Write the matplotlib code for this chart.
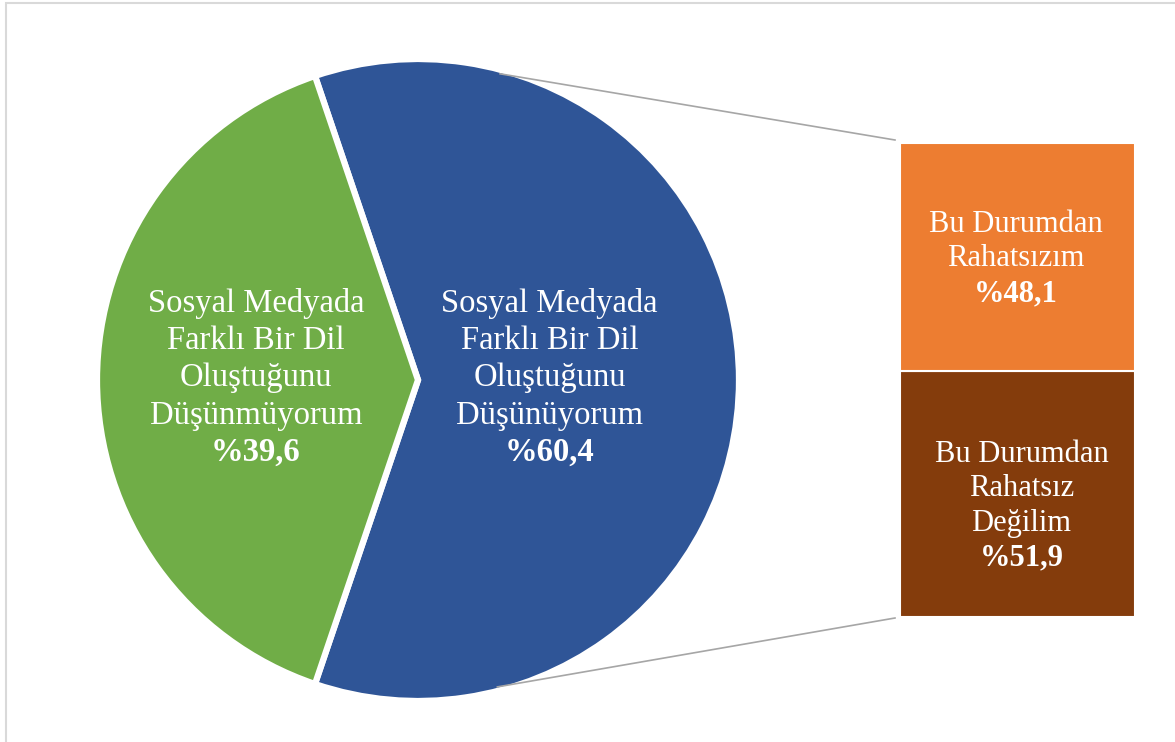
import numpy as np
import matplotlib.pyplot as plt
from matplotlib.patches import Rectangle

plt.rcParams['font.family'] = ['Liberation Serif', 'DejaVu Serif']

# ana pasta
pie_labels = ["Sosyal Medyada\nFarklı Bir Dil\nOluştuğunu\nDüşünüyorum",
              "Sosyal Medyada\nFarklı Bir Dil\nOluştuğunu\nDüşünmüyorum"]
pie_values = [60.4, 39.6]
pie_colors = ["#2F5597", "#70AD47"]

# düşünenlerin dağılımı (çubuk)
bar_labels = ["Bu Durumdan\nRahatsız\nDeğilim", "Bu Durumdan\nRahatsızım"]
bar_values = [51.9, 48.1]
bar_colors = ["#843C0C", "#ED7D31"]


def fmt(v):
    return "%" + ("%.1f" % v).replace(".", ",")


def text_block(ax, x, y, label, pct, size, step):
    lines = label.split("\n") + [fmt(pct)]
    n = len(lines)
    for i, line in enumerate(lines):
        yy = y + (n - 1) / 2 * step - i * step
        ax.text(x, yy, line, ha="center", va="center", color="white",
                fontsize=size, fontweight="bold" if i == n - 1 else "normal")


W, H = 1175, 742
fig = plt.figure(figsize=(W / 100, H / 100), dpi=100)
ax = fig.add_axes([0, 0, 1, 1])

cx, cy, r = 418, 362, 321
start = -pie_values[0] * 3.6 / 2
wedges, _ = ax.pie(pie_values, colors=pie_colors, startangle=start,
                   center=(cx, cy), radius=r,
                   wedgeprops=dict(edgecolor="white", linewidth=4.5))

# etiketler dilimlerin ortasına
pos = [0.41, 0.505]
for w, lab, v, f in zip(wedges, pie_labels, pie_values, pos):
    ang = np.deg2rad((w.theta1 + w.theta2) / 2)
    tx = cx + f * r * np.cos(ang)
    ty = cy + f * r * np.sin(ang) + 2
    text_block(ax, tx, ty, lab, v, 23.5, 37.3)

# yığılmış çubuk
bx, bw = 1017.5, 235
btop, bbot = 742 - 143, 742 - 617
scale = (btop - bbot) / sum(bar_values)
bottom = bbot
offsets = [(4, -12), (-2, -2)]
for lab, v, c, off in zip(bar_labels, bar_values, bar_colors, offsets):
    h = v * scale
    ax.bar(bx, h, bottom=bottom, width=bw, color=c, edgecolor="white",
           linewidth=1.5)
    text_block(ax, bx + off[0], bottom + h / 2 + off[1], lab, v, 22, 34.5)
    bottom += h

# bağlantı çizgileri
for a, ey in [(75, btop + 3), (-75.5, bbot - 1)]:
    sx = cx + (r - 4) * np.cos(np.deg2rad(a))
    sy = cy + (r - 4) * np.sin(np.deg2rad(a))
    ax.plot([sx, bx - bw / 2 - 5], [sy, ey], color="#A6A6A6", lw=1.2,
            zorder=3)

ax.add_patch(Rectangle((6, -20), W + 20, H - 3 + 20, fill=False,
                       edgecolor="#D9D9D9", lw=1.5, clip_on=False))

ax.set_xlim(0, W)
ax.set_ylim(0, H)
ax.set_aspect("auto")
ax.axis("off")
fig.savefig("out.png", dpi=100)
